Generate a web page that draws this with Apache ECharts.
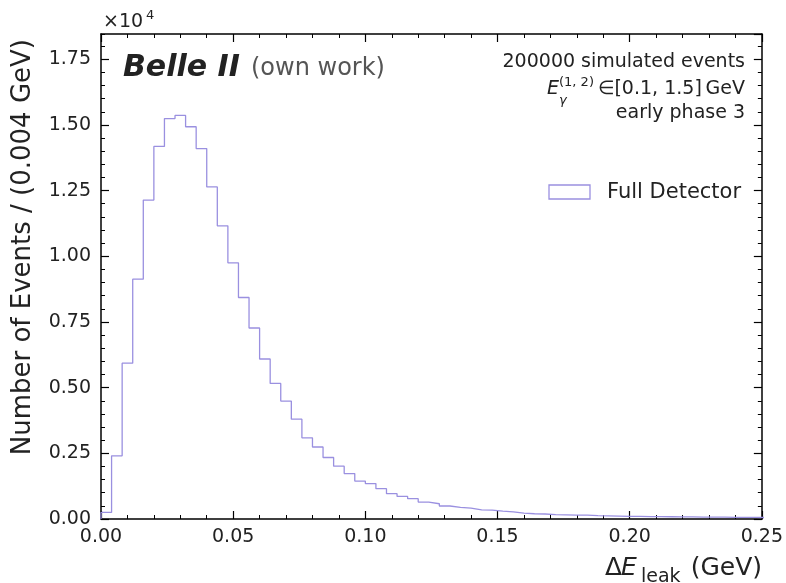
<!DOCTYPE html>
<html>
<head>
<meta charset="utf-8">
<script src="https://cdn.jsdelivr.net/npm/echarts@6/dist/echarts.min.js"></script>
<style>
html,body{margin:0;padding:0;background:#fff;}
#chart{width:786px;height:583px;}
</style>
</head>
<body>
<div id="chart"></div>
<script>
// Histogram of Delta E_leak, bin width 0.004 GeV starting at 0
var binStart = 0.0;
var binWidth = 0.004;
var counts = [
  250, 2405, 5930, 9130, 12140, 14180, 15240, 15360, 14930, 14100,
  12640, 11160, 9750, 8430, 7270, 6090, 5160, 4490, 3800, 3090,
  2740, 2340, 2010, 1730, 1445, 1350, 1155, 965, 860, 775,
  645, 580, 495, 445, 415, 350, 340, 300, 270, 225,
  200, 190, 170, 160, 150, 145, 130, 120, 110, 100,
  100, 90, 90, 85, 80, 80, 75, 70, 70, 65,
  60, 60, 55
];
var xTicks = [0.00, 0.05, 0.10, 0.15, 0.20, 0.25];
var yTicks = [0, 2500, 5000, 7500, 10000, 12500, 15000, 17500];
var seriesName = 'Full Detector';

var xMin = 0, xMax = 0.25, yMin = 0, yMax = 18460;
var purple = '#9a90e0';
var ink = '#222222';
var FONT = 'DejaVu Sans';

// step line points built from the bin edges
var pts = [[binStart, 0]];
for (var i = 0; i < counts.length; i++) {
  pts.push([+(binStart + i * binWidth).toFixed(4), counts[i]]);
}
pts.push([+(binStart + counts.length * binWidth).toFixed(4), counts[counts.length - 1]]);

function xAxisDef(pos, labels) {
  return {
    type: 'value', position: pos, min: xMin, max: xMax,
    interval: xTicks[1] - xTicks[0],
    axisLine: {show: true, onZero: false, lineStyle: {color: '#000', width: 1.5}},
    axisTick: {show: true, inside: true, length: 8, lineStyle: {color: '#000', width: 1.2}},
    minorTick: {show: true, splitNumber: 5, length: 4, lineStyle: {color: '#000', width: 1}},
    splitLine: {show: false},
    axisLabel: {show: labels, margin: 9, color: ink, fontFamily: FONT, fontSize: 19,
      formatter: function (v) { return v.toFixed(2); }}
  };
}
function yAxisDef(pos, labels, interval, len, line) {
  return {
    type: 'value', position: pos, min: yMin, max: yMax, interval: interval,
    axisLine: {show: line, onZero: false, lineStyle: {color: '#000', width: 1.5}},
    axisTick: {show: true, inside: true, length: len, lineStyle: {color: '#000', width: len > 5 ? 1.2 : 1}},
    splitLine: {show: false},
    axisLabel: {show: labels, margin: 10, color: ink, fontFamily: FONT, fontSize: 19,
      showMaxLabel: false,
      formatter: function (v) { return (v / 10000).toFixed(2); }}
  };
}

var chart = echarts.init(document.getElementById('chart'), null, {renderer: 'canvas'});
chart.setOption({
  animation: false,
  backgroundColor: '#ffffff',
  grid: {left: 101, right: 20, top: 34, bottom: 64, containLabel: false},
  xAxis: [xAxisDef('bottom', true), xAxisDef('top', false)],
  yAxis: [
    yAxisDef('left', true, yTicks[1] - yTicks[0], 8, true),
    yAxisDef('right', false, yTicks[1] - yTicks[0], 8, true),
    yAxisDef('left', false, (yTicks[1] - yTicks[0]) / 5, 4, false),
    yAxisDef('right', false, (yTicks[1] - yTicks[0]) / 5, 4, false)
  ],
  series: [{
    name: seriesName, type: 'line', step: 'end', xAxisIndex: 0, yAxisIndex: 0,
    data: pts, showSymbol: false, symbol: 'none', clip: true,
    lineStyle: {color: purple, width: 1.3}
  }],
  graphic: [
    {type: 'text', left: 103, top: 13, style: {text: '×10', font: '19px "DejaVu Sans"', fill: ink}},
    {type: 'text', left: 146, top: 9, style: {text: '4', font: '13px "DejaVu Sans"', fill: ink}},
    {type: 'text', x: 123, y: 68, style: {text: 'Belle II', font: 'italic bold 30px "DejaVu Sans"', fill: ink, verticalAlign: 'middle', align: 'left'}},
    {type: 'text', x: 251, y: 69, style: {text: '(own work)', font: '24px "DejaVu Sans"', fill: '#555555', verticalAlign: 'middle', align: 'left'}},
    {type: 'text', x: 745, y: 62, style: {text: '200000 simulated events', font: '19px "DejaVu Sans"', fill: ink, verticalAlign: 'middle', align: 'right'}},
    {type: 'text', x: 745, y: 89, style: {text: '∈[0.1, 1.5]\u2009GeV', font: '19px "DejaVu Sans"', fill: ink, verticalAlign: 'middle', align: 'right'}},
    {type: 'text', x: 547, y: 89, style: {text: 'E', font: 'italic 19px "DejaVu Sans"', fill: ink, verticalAlign: 'middle', align: 'left'}},
    {type: 'text', x: 559, y: 83, style: {text: '(1, 2)', font: '13px "DejaVu Sans"', fill: ink, verticalAlign: 'middle', align: 'left'}},
    {type: 'text', x: 559, y: 101, style: {text: 'γ', font: 'italic 13px "DejaVu Sans"', fill: ink, verticalAlign: 'middle', align: 'left'}},
    {type: 'text', x: 745, y: 113, style: {text: 'early phase 3', font: '19px "DejaVu Sans"', fill: ink, verticalAlign: 'middle', align: 'right'}},
    {type: 'rect', shape: {x: 549, y: 185, width: 41, height: 14}, style: {fill: 'none', stroke: purple, lineWidth: 1.3}},
    {type: 'text', x: 607, y: 193, style: {text: seriesName, font: '21px "DejaVu Sans"', fill: ink, verticalAlign: 'middle', align: 'left'}},
    {type: 'text', x: 23, y: 39, rotation: Math.PI / 2, style: {text: 'Number of Events / (0.004 GeV)', font: '26px "DejaVu Sans"', fill: ink, verticalAlign: 'middle', align: 'right'}},
    {type: 'text', x: 605, y: 568, style: {text: 'Δ', font: '25px "DejaVu Sans"', fill: ink, verticalAlign: 'middle', align: 'left'}},
    {type: 'text', x: 621, y: 568, style: {text: 'E', font: 'italic 25px "DejaVu Sans"', fill: ink, verticalAlign: 'middle', align: 'left'}},
    {type: 'text', x: 641, y: 577, style: {text: 'leak', font: '19px "DejaVu Sans"', fill: ink, verticalAlign: 'middle', align: 'left'}},
    {type: 'text', x: 762, y: 568, style: {text: '(GeV)', font: '25px "DejaVu Sans"', fill: ink, verticalAlign: 'middle', align: 'right'}}
  ]
});
</script>
</body>
</html>
